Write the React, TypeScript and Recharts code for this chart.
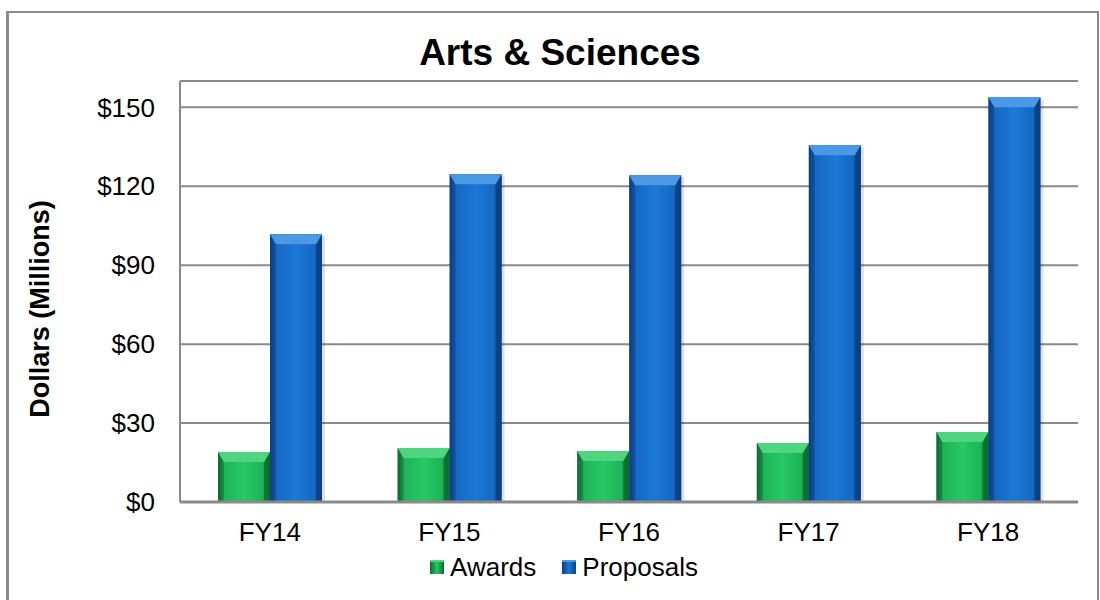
import React from "react";
import { BarChart, Bar, XAxis, YAxis, CartesianGrid, Legend } from "recharts";

const years = ["FY14", "FY15", "FY16", "FY17", "FY18"];
const awards = [19, 20.5, 19.4, 22.4, 26.6];
const proposals = [101.8, 124.6, 124.2, 135.6, 153.8];
const yTicks = [0, 30, 60, 90, 120, 150];

const data = years.map((year, i) => ({ year, awards: awards[i], proposals: proposals[i] }));

const palette: Record<string, { dark: string; mid: string; light: string; top: string }> = {
  awards: { dark: "#0a6b30", mid: "#1db457", light: "#27c866", top: "#4fd47f" },
  proposals: { dark: "#0a3f80", mid: "#1568c4", light: "#1c78d6", top: "#4b98e4" },
};

// bevelled "3d" bar like the office chart
const BevelBar = (props: any) => {
  const { x, y, width, height, dataKey } = props;
  if (!height || height <= 0) return null;
  const c = palette[dataKey];
  const b = Math.min(10, height / 2);
  const s = 6;
  const gid = `grad-${dataKey}`;
  return (
    <g>
      <defs>
        <linearGradient id={gid} x1="0" y1="0" x2="1" y2="0">
          <stop offset="0%" stopColor={c.dark} />
          <stop offset="12%" stopColor={c.mid} />
          <stop offset="50%" stopColor={c.light} />
          <stop offset="85%" stopColor={c.mid} />
          <stop offset="100%" stopColor={c.dark} />
        </linearGradient>
      </defs>
      <rect x={x + 3} y={y + 2} width={width} height={height - 2} fill="#000" opacity={0.12} />
      <rect x={x} y={y} width={width} height={height} fill={`url(#${gid})`} />
      <polygon points={`${x},${y} ${x + s},${y + b} ${x + s},${y + height} ${x},${y + height}`} fill={c.dark} opacity={0.45} />
      <polygon
        points={`${x + width},${y} ${x + width - s},${y + b} ${x + width - s},${y + height} ${x + width},${y + height}`}
        fill={c.dark}
        opacity={0.8}
      />
      <polygon
        points={`${x},${y} ${x + width},${y} ${x + width - s},${y + b} ${x + s},${y + b}`}
        fill={c.top}
      />
    </g>
  );
};

const renderLegend = (props: any) => {
  const { payload } = props;
  return (
    <div
      style={{
        display: "flex",
        justifyContent: "center",
        gap: 26,
        paddingLeft: 50,
        fontFamily: "'Liberation Sans', Arial, sans-serif",
        fontSize: 26,
        color: "#000",
        lineHeight: "30px",
      }}
    >
      {payload.map((p: any) => {
        const c = palette[p.dataKey];
        return (
          <span key={p.dataKey} style={{ display: "flex", alignItems: "center" }}>
            <span
              style={{
                display: "inline-block",
                width: 14,
                height: 14,
                marginRight: 6,
                background: `linear-gradient(90deg, ${c.dark}, ${c.light} 50%, ${c.dark})`,
                borderTop: `2px solid ${c.top}`,
                boxSizing: "border-box",
              }}
            />
            {p.value}
          </span>
        );
      })}
    </div>
  );
};

const App = () => {
  const font = "'Liberation Sans', Arial, sans-serif";
  return (
    <div style={{ position: "absolute", left: 0, top: 0, width: 1100, height: 600, background: "#fff", overflow: "hidden" }}>
      <div
        style={{
          position: "absolute",
          left: 6,
          top: 11,
          width: 1088,
          height: 600,
          borderLeft: "3px solid #8a8a8a",
          borderTop: "2px solid #8a8a8a",
          borderRight: "2px solid #8a8a8a",
        }}
      />
      <div
        style={{
          position: "absolute",
          left: 0,
          top: 32,
          width: 1120,
          textAlign: "center",
          fontFamily: font,
          fontWeight: "bold",
          fontSize: 37,
          lineHeight: "42px",
          color: "#000",
        }}
      >
        Arts &amp; Sciences
      </div>
      <div
        style={{
          position: "absolute",
          left: 40,
          top: 309,
          transform: "translate(-50%, -50%) rotate(-90deg)",
          whiteSpace: "nowrap",
          fontFamily: font,
          fontWeight: "bold",
          fontSize: 27,
          color: "#000",
        }}
      >
        Dollars (Millions)
      </div>
      <div style={{ position: "absolute", left: 0, top: 0 }}>
        <BarChart
          width={1100}
          height={600}
          data={data}
          margin={{ top: 81, right: 22, left: 0, bottom: 14 }}
          barGap={0}
          barCategoryGap={38}
        >
          <CartesianGrid vertical={false} stroke="#8a8a8a" strokeWidth={2} />
          <XAxis
            dataKey="year"
            height={50}
            tickLine={false}
            tickSize={0}
            tickMargin={21}
            axisLine={{ stroke: "#8a8a8a", strokeWidth: 3 }}
            tick={{ fill: "#000", fontSize: 26, fontFamily: font }}
          />
          <YAxis
            width={180}
            domain={[0, 160]}
            ticks={yTicks}
            tickLine={false}
            tickSize={0}
            tickMargin={25}
            axisLine={{ stroke: "#8a8a8a", strokeWidth: 2 }}
            tickFormatter={(v: number) => `$${v}`}
            tick={{ fill: "#000", fontSize: 26, fontFamily: font }}
          />
          <Legend verticalAlign="bottom" height={34} content={renderLegend} />
          <Bar dataKey="awards" name="Awards" shape={BevelBar} isAnimationActive={false} />
          <Bar dataKey="proposals" name="Proposals" shape={BevelBar} isAnimationActive={false} />
        </BarChart>
      </div>
    </div>
  );
};

export default App;
